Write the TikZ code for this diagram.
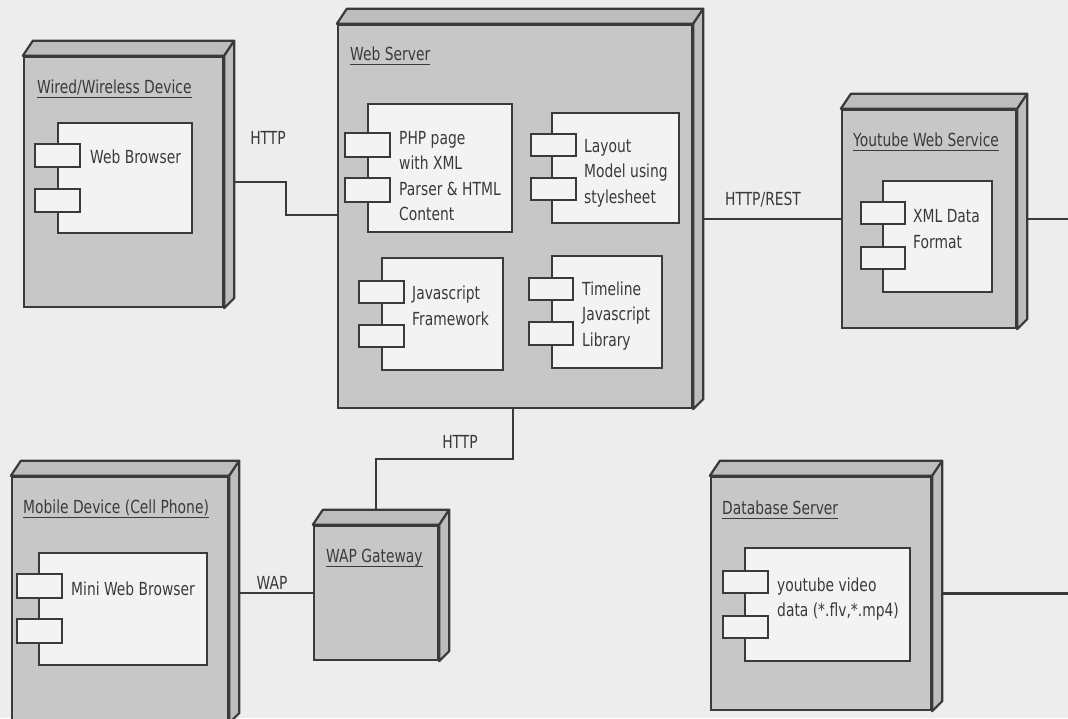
\documentclass[tikz,border=0pt]{standalone}
\usepackage{fontspec}
\setmainfont{DejaVu Sans}[FakeStretch=0.77]
\usetikzlibrary{fit,calc}
\definecolor{ink}{HTML}{3A3A3A}
\definecolor{face}{HTML}{C7C7C7}
\definecolor{sideface}{HTML}{BDBDBD}
\definecolor{comp}{HTML}{F3F3F3}
\definecolor{bg}{HTML}{EDEDED}
\tikzset{
  devface/.style={draw=ink, line width=2.4pt, fill=face, inner sep=0pt},
  devdepth/.style={draw=ink, line width=2.2pt, fill=sideface, line join=round},
  compbox/.style={draw=ink, line width=2.2pt, fill=comp, inner sep=0pt},
  portbox/.style={draw=ink, line width=2.2pt, fill=comp, inner sep=0pt},
  titletext/.style={anchor=base west, inner sep=0pt, text=ink, font=\fontsize{18}{25.5}\selectfont},
  uline/.style={draw=ink, line width=1.6pt},
  lbl/.style={anchor=west, inner sep=0pt, align=left, text=ink, font=\fontsize{18}{25.5}\selectfont},
  connlabel/.style={inner sep=0pt, text=ink, font=\fontsize{18}{25.5}\selectfont},
  conn/.style={draw=ink, line width=2.2pt},
}
\newcommand\ddbox[1]{%
  \draw[devdepth] (#1.north west) -- ++(10,-15) -- ([shift={(10pt,15pt)}]#1.north east) -- (#1.north east) -- cycle;
  \draw[devdepth] (#1.north east) -- ++(10,-15) -- ([shift={(10pt,10pt)}]#1.south east) -- (#1.south east) -- cycle;}
\newcommand\ttl[3]{%
  \node[titletext] (#1) at (#2) {#3};
  \draw[uline] ([yshift=-4.5pt]#1.base west) -- ([yshift=-4.5pt]#1.base east);}
\begin{document}
\begin{tikzpicture}[x=1pt,y=-1pt]
\useasboundingbox (0,0) rectangle (1068,718);
\fill[bg] (0,0) rectangle (1068,718);

% ---------- devices ----------
\node[devface, fit={(24,57) (223,307)}] (wired) {};
\ddbox{wired}
\node[devface, fit={(338,25) (692,408)}] (web) {};
\ddbox{web}
\node[devface, fit={(842,110) (1016,328)}] (yt) {};
\ddbox{yt}
\node[devface, fit={(12,477) (228,722)}] (mob) {};
\ddbox{mob}
\node[devface, fit={(314,526) (438,660)}] (gw) {};
\ddbox{gw}
\node[devface, fit={(711,477) (931,710)}] (db) {};
\ddbox{db}

% ---------- titles ----------
\ttl{wiredT}{37,93}{Wired/Wireless Device}
\ttl{webT}{350,60}{Web Server}
\ttl{ytT}{853,146}{Youtube Web Service}
\ttl{mobT}{23,513}{Mobile Device (Cell Phone)}
\ttl{gwT}{326,562}{WAP Gateway}
\ttl{dbT}{722,514}{Database Server}

% ---------- components ----------
\node[compbox, fit={(58,123) (192,233)}] (wb) {};
\node[portbox, fit={(35,144) (80,167)}] (wbp1) {};
\node[portbox, fit={(35,189) (80,212)}] (wbp2) {};
\node[lbl] (wbL) at (90,157) {Web Browser};

\node[compbox, fit={(368,104) (512,232)}] (php) {};
\node[portbox, fit={(345,133) (390,157)}] (phpp1) {};
\node[portbox, fit={(345,178) (390,202)}] (phpp2) {};
\node[lbl] (phpL) at (399,176) {PHP page\\with XML\\Parser \& HTML\\Content};

\node[compbox, fit={(552,113) (679,223)}] (lay) {};
\node[portbox, fit={(531,134) (576,156)}] (layp1) {};
\node[portbox, fit={(531,178) (576,200)}] (layp2) {};
\node[lbl] (layL) at (584,173) {Layout\\Model using\\stylesheet};

\node[compbox, fit={(382,258) (503,370)}] (js) {};
\node[portbox, fit={(359,281) (404,303)}] (jsp1) {};
\node[portbox, fit={(359,325) (404,347)}] (jsp2) {};
\node[lbl] (jsL) at (412,306) {Javascript\\Framework};

\node[compbox, fit={(552,256) (662,368)}] (tl) {};
\node[portbox, fit={(529,278) (573,300)}] (tlp1) {};
\node[portbox, fit={(529,322) (573,345)}] (tlp2) {};
\node[lbl] (tlL) at (582,316) {Timeline\\Javascript\\Library};

\node[compbox, fit={(883,181) (992,292)}] (xml) {};
\node[portbox, fit={(861,202) (905,224)}] (xmlp1) {};
\node[portbox, fit={(861,247) (905,269)}] (xmlp2) {};
\node[lbl] (xmlL) at (913,229) {XML Data\\Format};

\node[compbox, fit={(39,553) (207,665)}] (mwb) {};
\node[portbox, fit={(17,574) (62,598)}] (mwbp1) {};
\node[portbox, fit={(17,619) (62,643)}] (mwbp2) {};
\node[lbl] (mwbL) at (71,589) {Mini Web Browser};

\node[compbox, fit={(745,548) (910,661)}] (ytv) {};
\node[portbox, fit={(723,571) (768,593)}] (ytvp1) {};
\node[portbox, fit={(723,616) (768,638)}] (ytvp2) {};
\node[lbl] (ytvL) at (777,599) {youtube video\\data (*.flv,*.mp4)};

% ---------- connectors ----------
\coordinate (wiredR) at ([xshift=10pt]wired.east);
\coordinate (webR) at ([xshift=10pt]web.east);
\coordinate (ytR) at ([xshift=10pt]yt.east);
\coordinate (mobR) at ([xshift=10pt]mob.east);
\coordinate (dbR) at ([xshift=10pt]db.east);
\coordinate (gwTop) at ([yshift=15pt]gw.north);
\coordinate (ytout) at (ytR -| 1068,0);
\coordinate (dbout) at (dbR -| 1068,0);

\draw[conn] (wiredR) -| (286,215) -- (web.west |- 286,215);
\draw[conn] (webR |- yt.west) -- (yt.west);
\draw[conn] (ytR) -- (ytout);
\draw[conn] ([xshift=-2pt]web.south) -- ++(0,50) -| (gwTop);
\draw[conn] (mobR |- gw.west) -- (gw.west);
\draw[conn] (dbR) -- (dbout);

% ---------- connector labels ----------
\node[connlabel] (l1) at (268,138) {HTTP};
\node[connlabel] (l2) at (763,200) {HTTP/REST};
\node[connlabel] (l3) at (272,583) {WAP};
\node[connlabel] (l4) at (460,442) {HTTP};
\end{tikzpicture}
\end{document}
